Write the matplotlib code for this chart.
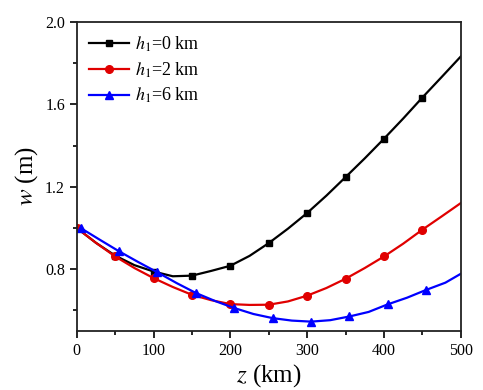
import numpy as np
import matplotlib
matplotlib.use('Agg')
import matplotlib.pyplot as plt
from matplotlib.ticker import MultipleLocator

plt.rcParams['font.family'] = ['Liberation Serif', 'DejaVu Serif']
plt.rcParams['mathtext.fontset'] = 'stix'

# data (every 25 km, markers every 50 km)
z_0 = [0, 25, 50, 75, 100, 125, 150, 175, 200, 225, 250, 275, 300, 325, 350, 375, 400, 425, 450, 475, 500]
w_0 = [1.0, 0.928, 0.866, 0.820, 0.789, 0.766, 0.769, 0.792, 0.817, 0.865, 0.927, 0.997, 1.073,
       1.157, 1.247, 1.338, 1.433, 1.531, 1.633, 1.732, 1.832]

z_2 = [0, 25, 50, 75, 100, 125, 150, 175, 200, 225, 250, 275, 300, 325, 350, 375, 400, 425, 450, 475, 500]
w_2 = [1.0, 0.928, 0.862, 0.806, 0.757, 0.714, 0.676, 0.650, 0.631, 0.627, 0.628, 0.644, 0.672,
       0.709, 0.754, 0.806, 0.862, 0.924, 0.992, 1.056, 1.121]

z_6 = [5, 30, 55, 80, 105, 130, 155, 180, 205, 230, 255, 280, 305, 330, 355, 380, 405, 430, 455, 480, 500]
w_6 = [1.0, 0.943, 0.887, 0.835, 0.785, 0.733, 0.685, 0.646, 0.612, 0.583, 0.563, 0.551, 0.546,
       0.553, 0.571, 0.593, 0.630, 0.662, 0.700, 0.735, 0.778]

labels = [r'$h_1$=0 km', r'$h_1$=2 km', r'$h_1$=6 km']

fig = plt.figure(figsize=(4.83, 3.90), dpi=100)
ax = fig.add_axes([0.159, 0.151, 0.795, 0.793])

mk = list(range(0, 20, 2))
ax.plot(z_0, w_0, color='black', marker='s', markersize=5, lw=1.6, markevery=mk, label=labels[0])
ax.plot(z_2, w_2, color='#e00000', marker='o', markersize=5.5, lw=1.6, markevery=mk, label=labels[1])
ax.plot(z_6, w_6, color='#0000ff', marker='^', markersize=6, lw=1.6, markevery=mk, label=labels[2])

ax.set_xlim(0, 500)
ax.set_ylim(0.5, 2.0)
ax.xaxis.set_major_locator(MultipleLocator(100))
ax.xaxis.set_minor_locator(MultipleLocator(50))
ax.set_yticks([0.8, 1.2, 1.6, 2.0])
ax.set_yticks([0.6, 1.0, 1.4, 1.8], minor=True)
ax.tick_params(which='both', direction='out', top=False, right=False, labelsize=11.5, width=1.2)
ax.tick_params(which='major', length=5)
ax.tick_params(which='minor', length=3)
for s in ax.spines.values():
    s.set_linewidth(1.3)
    s.set_color('#222222')

ax.set_xlabel(r'$z$ (km)', fontsize=18, labelpad=2)
ax.set_ylabel(r'$w$ (m)', fontsize=18, labelpad=4)

ax.legend(loc='upper left', frameon=False, fontsize=13, handlelength=2.2,
          handletextpad=0.3, labelspacing=0.35, borderaxespad=0.3)

fig.savefig('out.png', dpi=100)
